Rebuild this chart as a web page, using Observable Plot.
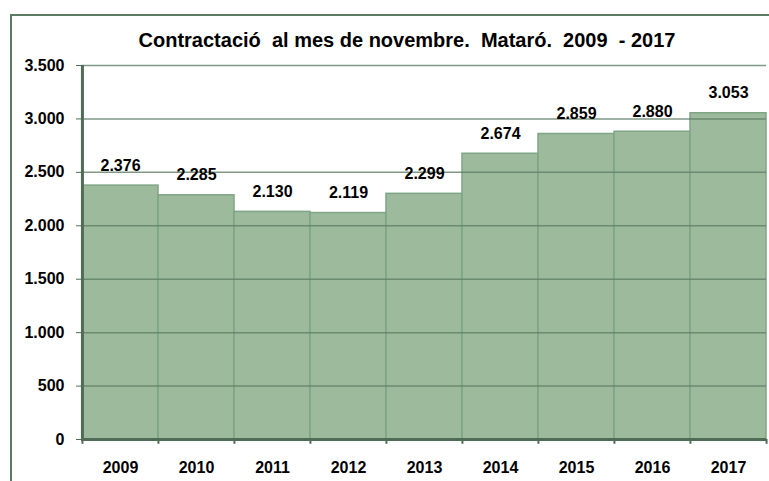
<!DOCTYPE html>
<html>
<head>
<meta charset="utf-8">
<script src="https://cdn.jsdelivr.net/npm/d3@7"></script>
<script src="https://cdn.jsdelivr.net/npm/@observablehq/plot@0.6"></script>
<style>
  html, body { margin: 0; padding: 0; background: #fff; }
  body { width: 769px; height: 481px; overflow: hidden; position: relative; font-family: "Liberation Sans", Arial, sans-serif; }
  #frame { position: absolute; left: 10px; top: 14px; width: 770px; height: 500px; border: 2px solid #5d7b63; box-sizing: border-box; }
  #title { position: absolute; left: 0; width: 814px; top: 29px; text-align: center; font-weight: bold; font-size: 20px; white-space: pre; color: #000; }
  #chart { position: absolute; left: 0; top: 0; }
</style>
</head>
<body>
<div id="frame"></div>
<div id="title">Contractació  al mes de novembre.  Mataró.  2009  - 2017</div>
<div id="chart"></div>
<script>
const years = ["2009", "2010", "2011", "2012", "2013", "2014", "2015", "2016", "2017"];
const values = [2376, 2285, 2130, 2119, 2299, 2674, 2859, 2880, 3053];
const yTicks = [0, 500, 1000, 1500, 2000, 2500, 3000, 3500];

const data = years.map((y, i) => ({year: y, value: values[i]}));
const fmt = d3.formatLocale({decimal: ",", thousands: ".", grouping: [3], currency: ["", "€"]}).format(",");

const W = 769, H = 481, ML = 81, MR = 3, MT = 65, MB = 42;
const bw = (W - ML - MR) / years.length;
const axisColor = "#4f6d55";

const chart = Plot.plot({
  width: W, height: H,
  marginLeft: ML, marginRight: MR, marginTop: MT, marginBottom: MB,
  style: {fontFamily: "Liberation Sans, Arial, sans-serif", color: "#000", background: "transparent"},
  x: {domain: years, padding: 0, axis: null, label: null},
  y: {domain: [0, 3500], axis: null, label: null},
  marks: [
    Plot.barY(data, {x: "year", y: "value", fill: "#9dba9d", stroke: "#7ea585", strokeWidth: 1.5}),
    Plot.ruleY(yTicks.filter(d => d > 0), {stroke: "#5f7f66", strokeWidth: 1.5, strokeOpacity: 0.8}),
    Plot.ruleX(years, {x: d => d, y1: 0, y2: -45, dx: -bw / 2, stroke: axisColor, strokeWidth: 2}),
    Plot.ruleX([years[years.length - 1]], {x: d => d, y1: 0, y2: -45, dx: bw / 2, stroke: axisColor, strokeWidth: 2}),
    Plot.ruleX([years[0]], {x: d => d, y1: 0, y2: 3500, dx: -bw / 2, stroke: axisColor, strokeWidth: 3}),
    Plot.ruleY([0], {stroke: axisColor, strokeWidth: 3}),
    Plot.axisY({ticks: yTicks, tickFormat: fmt, tickSize: 5, tickPadding: 12, stroke: axisColor, fill: "#000", fontSize: 16, fontWeight: "bold", label: null}),
    Plot.axisX({tickSize: 0, tickPadding: 22, fontSize: 16, fontWeight: "bold", fill: "#000", label: null}),
    Plot.text(data, {x: "year", y: "value", text: d => fmt(d.value), dy: -15, lineAnchor: "bottom", fontSize: 16, fontWeight: "bold", fill: "#000"})
  ]
});
document.getElementById("chart").appendChild(chart);
</script>
</body>
</html>
